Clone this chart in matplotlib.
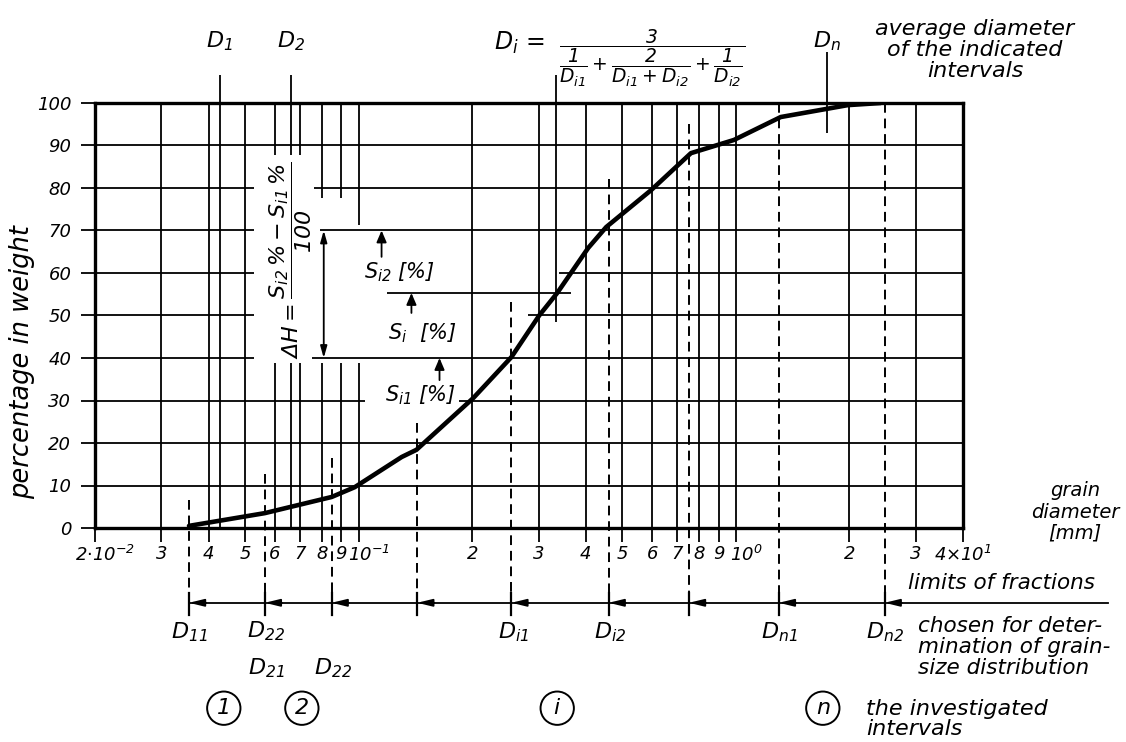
import matplotlib
matplotlib.use('Agg')
import matplotlib.pyplot as plt
from matplotlib.ticker import NullLocator
from matplotlib.transforms import ScaledTranslation

# grain-size distribution curve
grain_mm = [0.0355, 0.0564, 0.0848, 0.0976, 0.130, 0.1423, 0.2014, 0.254, 0.301,
            0.336, 0.406, 0.453, 0.596, 0.760, 0.988, 1.315, 1.98, 2.42]
weight_pct = [0.5, 3.5, 7.3, 9.6, 16.7, 18.4, 30.6, 40.2, 50.0,
              55.3, 65.9, 70.8, 79.5, 88.2, 91.3, 96.7, 99.5, 100.0]

# limits of fractions and how far up their dashed lines reach
limits_mm = [0.0355, 0.0564, 0.0848, 0.143, 0.254, 0.46, 0.751, 1.30, 2.48]
limits_top = [6.6, 12.7, 16.5, 24.7, 53.2, 82.0, 95.0, 100.0, 100.0]

# average diameters of the indicated intervals
avg_mm = [0.0428, 0.066, 0.334, 1.74]
avg_labels = [r'$D_1$', r'$D_2$', '', r'$D_n$']

# the investigated intervals (circled)
interval_mm = [0.0439, 0.0707, 0.336, 1.70]
interval_labels = ['1', '2', r'$i$', r'$n$']

# S_i1, S_i, S_i2 levels [%]
s_i1, s_i, s_i2 = 40.0, 55.3, 70.0

xticks = [0.02, 0.03, 0.04, 0.05, 0.06, 0.07, 0.08, 0.09,
          0.1, 0.2, 0.3, 0.4, 0.5, 0.6, 0.7, 0.8, 0.9,
          1, 2, 3, 4]
xtick_labels = [r'$2{\cdot}10^{-2}$', '3', '4', '5', '6', '7', '8', '9',
                r'$10^{-1}$', '2', '3', '4', '5', '6', '7', '8', '9',
                r'$10^{0}$', '2', '3', r'$4{\times}10^{1}$']
yticks = [0, 10, 20, 30, 40, 50, 60, 70, 80, 90, 100]

plt.rcParams['font.family'] = ['DejaVu Sans']
plt.rcParams['font.style'] = 'italic'
plt.rcParams['mathtext.fontset'] = 'custom'
plt.rcParams['mathtext.rm'] = 'DejaVu Sans:italic'
plt.rcParams['mathtext.it'] = 'DejaVu Sans:italic'
plt.rcParams['mathtext.bf'] = 'DejaVu Sans:italic:bold'

K = 'black'
GW = 1.3

fig = plt.figure(figsize=(11.26, 7.42), dpi=100)
ax = fig.add_axes([95 / 1126, 1 - 528 / 742, 868 / 1126, 425 / 742])
ax.set_xscale('log')
ax.set_xlim(0.02, 4)
ax.set_ylim(0, 100)

# horizontal grid, broken where the annotations sit
h_gaps = {30: (0.1037, 0.185), 40: (0.0527, 0.0751), 50: (0.0527, 0.2816),
          60: (0.0527, 0.340), 70: (0.0527, 0.0789), 80: (0.0527, 0.0760)}
for p in yticks[1:-1]:
    if p in h_gaps:
        a, b = h_gaps[p]
        ax.hlines(p, 0.02, a, color=K, lw=GW)
        ax.hlines(p, b, 4, color=K, lw=GW)
    else:
        ax.hlines(p, 0.02, 4, color=K, lw=GW)

# vertical grid
v_gaps = {0.06: (38.8, 87.8), 0.07: (38.8, 87.8), 0.08: (38.8, 77.6),
          0.09: (38.8, 77.6), 0.1: (38.8, 71.3)}
for x in xticks[1:-1]:
    if x in v_gaps:
        a, b = v_gaps[x]
        ax.vlines(x, 0, a, color=K, lw=GW)
        ax.vlines(x, b, 100, color=K, lw=GW)
    else:
        ax.vlines(x, 0, 100, color=K, lw=GW)

# average diameter markers
ax.vlines(avg_mm[0], 0, 106.6, color=K, lw=GW, clip_on=False)
ax.vlines(avg_mm[1], 0, 38.8, color=K, lw=GW)
ax.vlines(avg_mm[1], 87.8, 106.6, color=K, lw=GW, clip_on=False)
ax.vlines(avg_mm[2], 48.5, 106.6, color=K, lw=GW, clip_on=False)
ax.vlines(avg_mm[3], 93.0, 112.0, color=K, lw=GW, clip_on=False)
for x, lab in zip(avg_mm, avg_labels):
    if lab:
        ax.text(x, 114.5, lab, ha='center', va='center', fontsize=16)

# fraction limits: dashed lines and the arrow row underneath
y_row = -17.6
for x, top in zip(limits_mm, limits_top):
    ax.plot([x, x], [top, -20.5], color=K, lw=1.4, ls=(0, (5, 3)), clip_on=False)
    ax.plot([x, x], [-15.3, -20.5], color=K, lw=1.6, clip_on=False)
    ax.annotate('', xy=(x, y_row), xytext=(x * 1.11, y_row),
                arrowprops=dict(arrowstyle='-|>,head_length=0.9,head_width=0.22',
                                color=K, lw=1.3, shrinkA=0, shrinkB=0),
                annotation_clip=False)
ax.plot([limits_mm[0], 9.7], [y_row, y_row], color=K, lw=1.3, clip_on=False)

# the distribution curve
ax.plot(grain_mm, weight_pct, color=K, lw=3.3, solid_joinstyle='round',
        solid_capstyle='round', zorder=5)

# Delta H construction
ax.hlines(s_i, 0.1186, 0.3659, color=K, lw=GW)
ax.annotate('', xy=(0.0808, s_i1), xytext=(0.0808, s_i2),
            arrowprops=dict(arrowstyle='<|-|>,head_length=0.7,head_width=0.2',
                            color=K, lw=1.3, shrinkA=0, shrinkB=0))
for x, lo, hi in [(0.1150, 63.8, s_i2), (0.138, 50.6, s_i), (0.1638, 34.8, s_i1)]:
    ax.annotate('', xy=(x, hi), xytext=(x, lo),
                arrowprops=dict(arrowstyle='-|>,head_length=0.7,head_width=0.3',
                                color=K, lw=1.3, shrinkA=0, shrinkB=0))
ax.text(0.0661, 63.0, r'$\Delta H = \dfrac{S_{i2}\,\% - S_{i1}\,\%}{100}$',
        rotation=90, ha='center', va='center', fontsize=16)
ax.text(0.1284, 60.2, r'$S_{i2}$ [%]', ha='center', va='center', fontsize=15)
ax.text(0.1477, 45.9, r'$S_{i}$  [%]', ha='center', va='center', fontsize=15)
ax.text(0.146, 31.3, r'$S_{i1}$ [%]', ha='center', va='center', fontsize=15)

# axes styling
for s in ax.spines.values():
    s.set_linewidth(2.4)
ax.set_xticks(xticks)
ax.set_xticklabels(xtick_labels)
ax.xaxis.set_minor_locator(NullLocator())
ax.set_yticks(yticks)
ax.tick_params(axis='both', direction='out', length=10, width=1.3, labelsize=13)
ax.tick_params(axis='y', pad=7)
ax.tick_params(axis='x', pad=2)
shift = ScaledTranslation(10 / 100, 0, fig.dpi_scale_trans)
for lbl in ax.get_xticklabels():
    if '10' in lbl.get_text() and 'times' not in lbl.get_text():
        lbl.set_transform(lbl.get_transform() + shift)
ax.set_ylabel('percentage in weight', fontsize=18.5)
ax.yaxis.set_label_coords(-0.069, 0.39)

# labels under the fraction row
lbl_kw = dict(ha='center', va='center', fontsize=16)
ax.text(limits_mm[0], -24.5, r'$D_{11}$', **lbl_kw)
ax.text(limits_mm[1] * 1.01, -24.2, r'$D_{22}$', **lbl_kw)
ax.text(limits_mm[1] * 1.01, -32.9, r'$D_{21}$', **lbl_kw)
ax.text(limits_mm[2] * 1.01, -32.9, r'$D_{22}$', **lbl_kw)
ax.text(limits_mm[4] * 1.01, -24.5, r'$D_{i1}$', **lbl_kw)
ax.text(limits_mm[5] * 1.01, -24.5, r'$D_{i2}$', **lbl_kw)
ax.text(limits_mm[7], -24.5, r'$D_{n1}$', **lbl_kw)
ax.text(limits_mm[8], -24.5, r'$D_{n2}$', **lbl_kw)

for x, lab in zip(interval_mm, interval_labels):
    ax.text(x, -42.4, lab, ha='center', va='center', fontsize=16,
            bbox=dict(boxstyle='circle,pad=0.3', fc='white', ec=K, lw=1.4))

# formula and side notes
fig.text(520 / 1126, 1 - 43 / 742, r'$D_i\,=$', ha='center', va='center', fontsize=17)
fig.text(652 / 1126, 1 - 58 / 742,
         r'$\dfrac{3}{\dfrac{1}{D_{i1}}+\dfrac{2}{D_{i1}+D_{i2}}+\dfrac{1}{D_{i2}}}$',
         ha='center', va='center', fontsize=13.5)
fig.text(975 / 1126, 1 - 50 / 742, 'average diameter\nof the indicated\nintervals',
         ha='center', va='center', fontsize=16, linespacing=1.05)
fig.text(1075 / 1126, 1 - 512 / 742, 'grain\ndiameter\n[mm]',
         ha='center', va='center', fontsize=14, linespacing=1.15)
fig.text(908 / 1126, 1 - 583 / 742, 'limits of fractions',
         ha='left', va='center', fontsize=15.5)
fig.text(918 / 1126, 1 - 647 / 742, 'chosen for deter-\nmination of grain-\nsize distribution',
         ha='left', va='center', fontsize=15.5, linespacing=1.05)
fig.text(866 / 1126, 1 - 719 / 742, 'the investigated\nintervals',
         ha='left', va='center', fontsize=16, linespacing=0.95)

fig.savefig('out.png', dpi=100)
